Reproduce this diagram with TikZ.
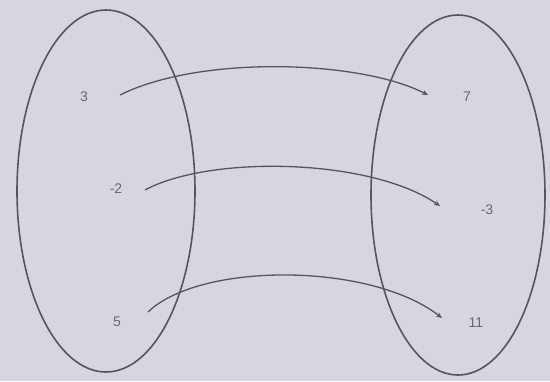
\documentclass[tikz,border=0pt]{standalone}
\usepackage{fontspec}
\setmainfont{Liberation Sans}
\usetikzlibrary{arrows.meta}
\definecolor{bg}{RGB}{214,214,224}
\definecolor{ink}{RGB}{85,85,95}
\definecolor{txt}{RGB}{105,105,112}
\tikzset{
  setoval/.style={draw=ink, line width=1.6pt},
  val/.style={text=txt, font=\fontsize{14}{14}\selectfont, inner sep=1pt},
  mapto/.style={draw=ink, line width=1.3pt, -{Stealth[length=6pt,width=5pt]}}
}
\begin{document}
\begin{tikzpicture}[x=1pt,y=-1pt]
\fill[bg] (0,0) rectangle (550,381);
\useasboundingbox (0,0) rectangle (550,381);
\draw[setoval] (106,191) ellipse [x radius=89, y radius=181];
\draw[setoval] (458,195) ellipse [x radius=87, y radius=180];
\node[val] (a) at (84,97) {3};
\node[val] (b) at (116,189) {-2};
\node[val] (c) at (117,322) {5};
\node[val] (x) at (467,97) {7};
\node[val] (y) at (487,210) {-3};
\node[val] (z) at (476,323) {11};
\coordinate (a1) at (120,95);
\coordinate (x1) at (428,95);
\coordinate (b1) at (145,190);
\coordinate (y1) at (440,206);
\coordinate (c1) at (148,312);
\coordinate (z1) at (442,318);
\draw[mapto] (a1) .. controls (200,55) and (360,60) .. (x1);
\draw[mapto] (b1) .. controls (210,155) and (370,158) .. (y1);
\draw[mapto] (c1) .. controls (200,262) and (370,262) .. (z1);
\end{tikzpicture}
\end{document}
